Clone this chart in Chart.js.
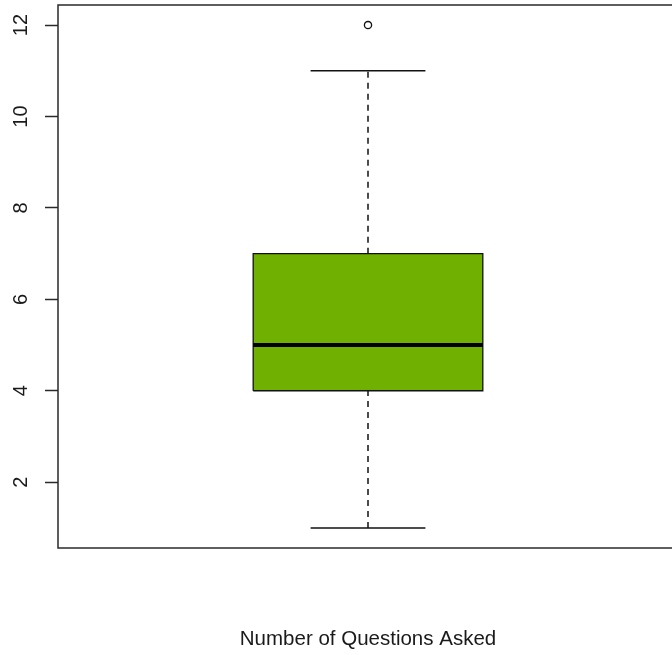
<!DOCTYPE html>
<html>
<head>
<meta charset="utf-8">
<title>Number of Questions Asked</title>
<script src="https://cdn.jsdelivr.net/npm/chart.js@4/dist/chart.umd.min.js"></script>
<style>
  html, body { margin: 0; padding: 0; background: #ffffff; overflow: hidden; }
  #wrap { width: 678px; height: 655px; }
</style>
</head>
<body>
<div id="wrap"><canvas id="chart" width="678" height="655"></canvas></div>
<script>
// Box plot summary for the single variable
const categories = ['Number of Questions Asked'];
const whiskerLow = [1];
const quartile1 = [4];
const medians = [5];
const quartile3 = [7];
const whiskerHigh = [11];
const outliers = [[12]];
const yTicks = [2, 4, 6, 8, 10, 12];

// Styling constants (in x-axis units around each box position)
const BOX_HALF = 0.2;
const CAP_HALF = 0.1;
const INK = '#111111';
const BOX_FILL = '#6fb000';

const datasets = [];
categories.forEach((cat, i) => {
  const xc = i + 1;
  // median bar
  datasets.push({
    data: [{ x: xc - BOX_HALF, y: medians[i] }, { x: xc + BOX_HALF, y: medians[i] }],
    showLine: true, borderColor: '#000000', borderWidth: 4, borderCapStyle: 'butt',
    pointRadius: 0, fill: false
  });
  // outlying points
  datasets.push({
    data: outliers[i].map(v => ({ x: xc, y: v })),
    showLine: false, pointStyle: 'circle', pointRadius: 3.6,
    pointBorderColor: INK, pointBackgroundColor: 'rgba(0,0,0,0)', pointBorderWidth: 1.3
  });
  // whisker caps
  [whiskerLow[i], whiskerHigh[i]].forEach(v => {
    datasets.push({
      data: [{ x: xc - CAP_HALF, y: v }, { x: xc + CAP_HALF, y: v }],
      showLine: true, borderColor: INK, borderWidth: 1.5, pointRadius: 0, fill: false
    });
  });
  // dashed whiskers
  [[quartile3[i], whiskerHigh[i]], [whiskerLow[i], quartile1[i]]].forEach(([a, b]) => {
    datasets.push({
      data: [{ x: xc, y: a }, { x: xc, y: b }],
      showLine: true, borderColor: INK, borderWidth: 1.5, borderDash: [6, 5],
      pointRadius: 0, fill: false
    });
  });
  // the box itself, drawn underneath everything else
  datasets.push({
    data: [
      { x: xc - BOX_HALF, y: quartile1[i] },
      { x: xc + BOX_HALF, y: quartile1[i] },
      { x: xc + BOX_HALF, y: quartile3[i] },
      { x: xc - BOX_HALF, y: quartile3[i] },
      { x: xc - BOX_HALF, y: quartile1[i] }
    ],
    showLine: true, fill: 'shape', backgroundColor: BOX_FILL,
    borderColor: INK, borderWidth: 1.3, pointRadius: 0, tension: 0
  });
});

// plot frame around the chart area
const framePlugin = {
  id: 'frame',
  afterDatasetsDraw(chart) {
    const { ctx, chartArea: a } = chart;
    ctx.save();
    ctx.strokeStyle = '#2a2a2a';
    ctx.lineWidth = 1.5;
    ctx.strokeRect(a.left, a.top, a.right - a.left, a.bottom - a.top);
    ctx.restore();
  }
};

new Chart(document.getElementById('chart'), {
  type: 'scatter',
  data: { datasets },
  plugins: [framePlugin],
  options: {
    responsive: false,
    animation: false,
    events: [],
    layout: { autoPadding: false, padding: { top: 5, left: 0, right: 0, bottom: 0 } },
    plugins: { legend: { display: false }, tooltip: { enabled: false } },
    scales: {
      x: {
        type: 'linear',
        min: 0.46,
        max: 1.54,
        ticks: { display: false },
        grid: { display: false },
        border: { display: false },
        title: {
          display: true,
          text: categories[0],
          color: '#1a1a1a',
          font: { family: '"Liberation Sans", Arial, sans-serif', size: 20.5 },
          padding: { top: 0, bottom: 3 }
        },
        afterFit(scale) { scale.height = 107; scale.paddingLeft = 0; scale.paddingRight = 0; }
      },
      y: {
        type: 'linear',
        min: 0.56,
        max: 12.44,
        afterBuildTicks(scale) { scale.ticks = yTicks.map(v => ({ value: v })); },
        ticks: {
          minRotation: 90,
          maxRotation: 90,
          crossAlign: 'center',
          padding: 12,
          color: '#1a1a1a',
          font: { family: '"Liberation Sans", Arial, sans-serif', size: 20 }
        },
        grid: {
          display: true,
          drawOnChartArea: false,
          drawTicks: true,
          tickLength: 13,
          tickColor: '#2a2a2a',
          tickWidth: 1.5
        },
        border: { display: false },
        afterFit(scale) { scale.width = 58; scale.paddingTop = 0; scale.paddingBottom = 0; }
      }
    }
  }
});
</script>
</body>
</html>
